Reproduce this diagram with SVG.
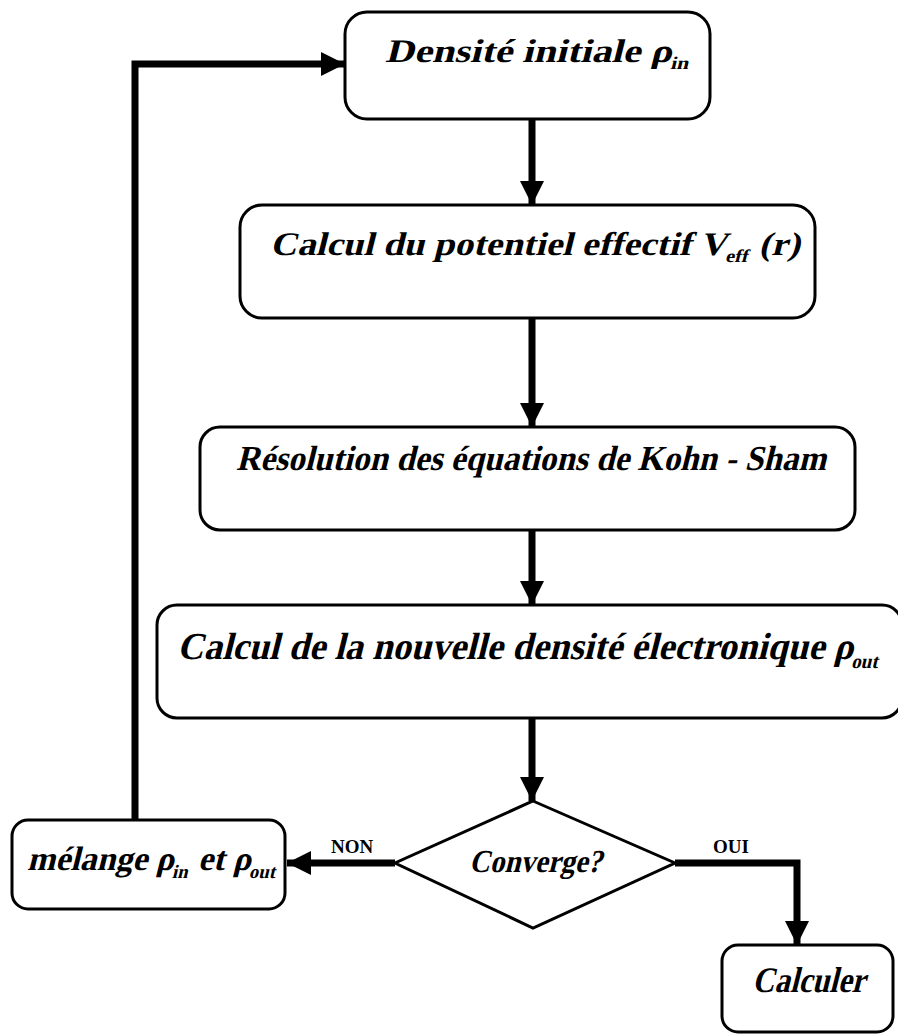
<svg xmlns="http://www.w3.org/2000/svg" width="898" height="1034" viewBox="0 0 898 1034">
<style>
.box{fill:#fff;stroke:#000;stroke-width:3}
.t{font-family:"Liberation Serif","Times New Roman",serif;font-weight:bold;fill:#000}
.lbl{font-family:"Liberation Serif","Times New Roman",serif;font-weight:bold;font-size:19px;fill:#000}
.conn{stroke:#000;stroke-width:7;fill:none}
</style>
<defs>
<marker id="ah" viewBox="0 0 24 24" markerWidth="24" markerHeight="24" refX="24" refY="12" orient="auto" markerUnits="userSpaceOnUse">
<path d="M0,0 L24,12 L0,24 z" fill="#000"/>
</marker>
</defs>
<rect width="898" height="1034" fill="#fff"/>
<g id="connectors">
<path class="conn" d="M532,119 V205" marker-end="url(#ah)"/>
<path class="conn" d="M532,318 V427" marker-end="url(#ah)"/>
<path class="conn" d="M532,530 V605" marker-end="url(#ah)"/>
<path class="conn" d="M532,718 V801" marker-end="url(#ah)"/>
<path class="conn" d="M395,863 H287" marker-end="url(#ah)"/>
<path class="conn" d="M675,863 H797 V945" marker-end="url(#ah)"/>
<path class="conn" stroke-width="9" d="M135,820 V64 H345" marker-end="url(#ah)"/>
</g>
<g id="n1">
<rect class="box" x="345" y="12" width="365" height="107" rx="22"/>
<text class="t" transform="translate(385,62) skewX(-14)" font-size="33" textLength="305" lengthAdjust="spacingAndGlyphs">Densité  initiale  ρ<tspan font-size="18" dy="7">in</tspan></text>
</g>
<g id="n2">
<rect class="box" x="240" y="205" width="575" height="113" rx="22"/>
<text class="t" transform="translate(270,255) skewX(-14)" font-size="33" textLength="530" lengthAdjust="spacingAndGlyphs">Calcul  du  potentiel  effectif  V<tspan font-size="18" dy="7">eff</tspan><tspan dy="-7"> (r)</tspan></text>
</g>
<g id="n3">
<rect class="box" x="200" y="427" width="655" height="103" rx="20"/>
<text class="t" transform="translate(236,470) skewX(-14)" font-size="35" textLength="590" lengthAdjust="spacingAndGlyphs">Résolution des équations de Kohn - Sham</text>
</g>
<g id="n4">
<rect class="box" x="157" y="605" width="745" height="113" rx="20"/>
<text class="t" transform="translate(177,659) skewX(-14)" font-size="38" textLength="703" lengthAdjust="spacingAndGlyphs">Calcul de la nouvelle densité électronique  ρ<tspan font-size="20" dy="9">out</tspan></text>
</g>
<g id="n5">
<polygon class="box" points="533,801 675,863 533,928 395,863"/>
<text class="t" transform="translate(469,872) skewX(-14)" font-size="32" textLength="133" lengthAdjust="spacingAndGlyphs">Converge?</text>
</g>
<g id="n6">
<rect class="box" x="12" y="820" width="273" height="89" rx="16"/>
<text class="t" transform="translate(27,870) skewX(-14)" font-size="34" textLength="250" lengthAdjust="spacingAndGlyphs">mélange ρ<tspan font-size="19" dy="8">in</tspan><tspan dy="-8">  et  ρ</tspan><tspan font-size="19" dy="8">out</tspan></text>
</g>
<g id="n7">
<rect class="box" x="722" y="945" width="171" height="87" rx="16"/>
<text class="t" transform="translate(752,992) skewX(-14)" font-size="36" textLength="113" lengthAdjust="spacingAndGlyphs">Calculer</text>
</g>
<text class="lbl" x="331" y="853">NON</text>
<text class="lbl" x="713" y="853">OUI</text>
</svg>
